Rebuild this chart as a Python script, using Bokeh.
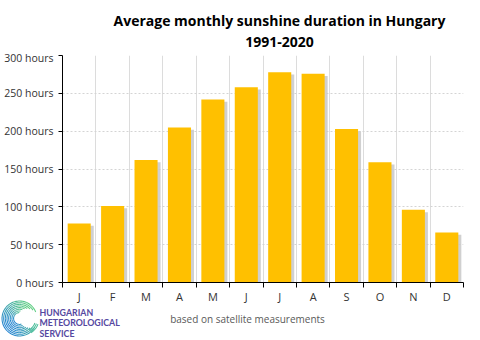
import math
from bokeh.plotting import figure
from bokeh.layouts import column
from bokeh.models import FixedTicker, Range1d, ColumnDataSource
from bokeh.core.properties import value
from bokeh.embed import file_html
from bokeh.resources import INLINE

months = ["J", "F", "M", "A", "M", "J", "J", "A", "S", "O", "N", "D"]
hours = [78, 101, 162, 205, 242, 258, 278, 276, 203, 159, 96, 66]
y_ticks = [0, 50, 100, 150, 200, 250, 300]
title_lines = ["Average monthly sunshine duration in Hungary", "1991-2020"]
note = "based on satellite measurements"
logo_lines = ["HUNGARIAN", "METEOROLOGICAL", "SERVICE"]

W = 480
FONT = "Open Sans"


def blank_fig(h, **kw):
    f = figure(width=W, height=h, output_backend="svg", toolbar_location=None,
               x_range=Range1d(0, W), y_range=Range1d(h, 0),
               x_axis_type=None, y_axis_type=None, min_border=0,
               frame_align=False, **kw)
    f.outline_line_color = None
    f.xgrid.visible = False
    f.ygrid.visible = False
    return f


# ---------------- header (title) ----------------
HH = 50
head = blank_fig(HH)
head.text(x=[279, 279], y=[20, 41], text=title_lines, text_align="center",
          text_baseline="middle", text_font=value(FONT), text_font_style="bold",
          text_font_size="14px", text_color="#000000")

# ---------------- main chart ----------------
MH = 256
pos = list(range(len(months)))
src = ColumnDataSource(dict(
    x=pos, top=hours,
    sx=[q + 0.09 for q in pos], stop=[h - 3 for h in hours],
))

p = figure(width=W, height=MH, output_backend="svg", toolbar_location=None,
           x_range=Range1d(-0.5, len(months) - 0.5), y_range=Range1d(0, 300),
           min_border_left=62, min_border_right=17, min_border_top=5,
           min_border_bottom=23, frame_align=False)
p.outline_line_color = None
p.background_fill_color = "white"
p.border_fill_color = "white"

p.vbar(x="sx", top="stop", width=0.69, source=src, fill_color="#c8c8c8",
       line_color=None, fill_alpha=0.85)
p.vbar(x="x", top="top", width=0.69, source=src, fill_color="#FFC000",
       line_color=None)

bounds = [i - 0.5 for i in range(len(months) + 1)]
p.xaxis.ticker = FixedTicker(ticks=pos, minor_ticks=bounds)
p.xaxis.major_label_overrides = {i: m for i, m in enumerate(months)}
p.xaxis.major_tick_out = 0
p.xaxis.major_tick_in = 0
p.xaxis.minor_tick_out = 5
p.xaxis.minor_tick_in = 0
p.xaxis.minor_tick_line_color = "black"
p.xaxis.axis_line_color = "black"
p.xaxis.major_label_standoff = 1
p.xaxis.major_label_text_font = FONT
p.xaxis.major_label_text_font_size = "11px"
p.xaxis.major_label_text_color = "#333333"

p.yaxis.ticker = FixedTicker(ticks=y_ticks)
p.yaxis.major_label_overrides = {v: f"{v} hours" for v in y_ticks}
p.yaxis.major_tick_out = 4
p.yaxis.major_tick_in = 0
p.yaxis.minor_tick_line_color = None
p.yaxis.axis_line_color = "black"
p.yaxis.major_tick_line_color = "black"
p.yaxis.major_label_standoff = 5
p.yaxis.major_label_text_font = FONT
p.yaxis.major_label_text_font_size = "10.5px"
p.yaxis.major_label_text_color = "#333333"

p.xgrid.ticker = FixedTicker(ticks=bounds)
p.xgrid.grid_line_color = "#dcdcdc"
p.ygrid.grid_line_color = "#d4d4d4"
p.ygrid.grid_line_dash = "2 2"

# ---------------- footer (overlapping, transparent) ----------------
FTOP = 296
FH = 340 - FTOP
foot = blank_fig(FH, margin=(-(HH + MH - FTOP), 0, 0, 0))
foot.background_fill_alpha = 0
foot.border_fill_alpha = 0

foot.text(x=[247], y=[318 - FTOP], text=[note], text_align="center",
          text_baseline="middle", text_font=value(FONT), text_font_size="10px",
          text_color="#595959")
foot.text(x=[39, 39, 39], y=[311.5 - FTOP, 322 - FTOP, 332.5 - FTOP], text=logo_lines,
          text_align="left", text_baseline="middle", text_font=value("Lato"),
          text_font_style="bold", text_font_size="8.8px", text_color="#5548a0")

# logo swirl (decoration)
cx0, cy0 = 19, 318 - FTOP
c1 = (0x26, 0x86, 0xd2)
c2 = (0x62, 0xcf, 0x84)
nseg = 14
pxs, pys, pcs = [], [], []
for k in range(8):
    r_out = 18 - k * 1.65
    r_in = r_out - 1.05
    a0 = 22 + k * 10
    a1 = 330 - k * 6
    for s in range(nseg):
        sa = a0 + (a1 - a0) * s / nseg
        ea = a0 + (a1 - a0) * (s + 1) / nseg + 0.5
        n = 5
        angs = [math.radians(sa + (ea - sa) * j / n) for j in range(n + 1)]
        xs = [cx0 + r_out * math.cos(a) for a in angs] + [cx0 + r_in * math.cos(a) for a in reversed(angs)]
        ys = [cy0 - r_out * math.sin(a) for a in angs] + [cy0 - r_in * math.sin(a) for a in reversed(angs)]
        mid = math.radians((sa + ea) / 2)
        t = (1 + math.cos(mid - math.radians(40))) / 2
        col = "#%02x%02x%02x" % tuple(int(c1[m] + (c2[m] - c1[m]) * t) for m in range(3))
        pxs.append(xs)
        pys.append(ys)
        pcs.append(col)
# short tail at lower right of the swirl
tail_a = [math.radians(a) for a in range(300, 341, 8)]
for k in range(3):
    r_out = 17 - k * 1.65
    r_in = r_out - 1.05
    xs = [cx0 + 3 + r_out * math.cos(a) for a in tail_a] + [cx0 + 3 + r_in * math.cos(a) for a in reversed(tail_a)]
    ys = [cy0 - r_out * math.sin(a) for a in tail_a] + [cy0 - r_in * math.sin(a) for a in reversed(tail_a)]
    pxs.append(xs)
    pys.append(ys)
    pcs.append("#4fbf9c")
foot.patches(xs=pxs, ys=pys, fill_color=pcs, line_color=None)

layout = column(head, p, foot, spacing=0)
open("out.html", "w").write(file_html(layout, INLINE))
